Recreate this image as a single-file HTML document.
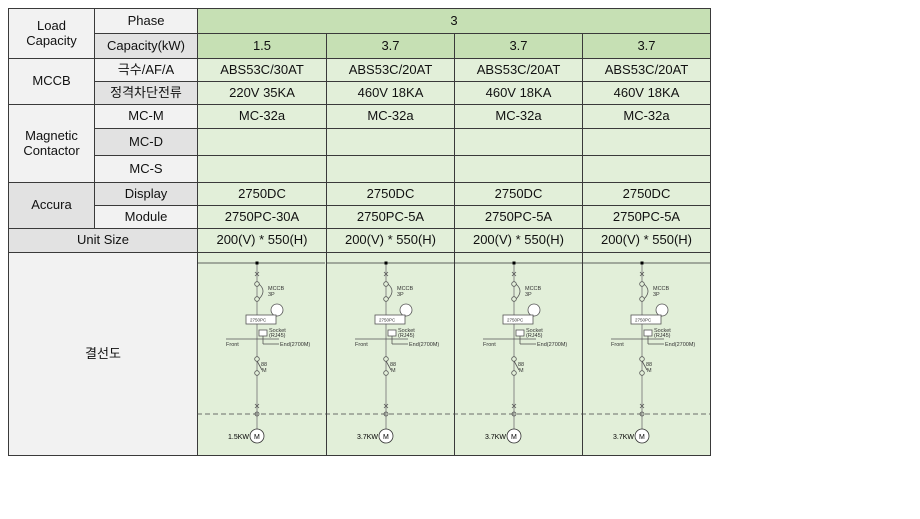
<!DOCTYPE html>
<html><head><meta charset="utf-8"><style>
body{margin:0;width:920px;height:519px;background:#fff;position:relative;overflow:hidden;font-family:"Liberation Sans","Noto Sans CJK KR",sans-serif;}
table{position:absolute;left:8px;top:8px;border-collapse:collapse;table-layout:fixed;font-size:13px;color:#111;}
td{border:1px solid #3a3a3a;text-align:center;padding:0;line-height:1.1;}
.l{background:#f2f2f2}.d{background:#e2e2e2}.g{background:#c6e0b4}.e{background:#e2efd9}
</style></head><body>
<table>
<colgroup><col style="width:86px"><col style="width:103px"><col style="width:129px"><col style="width:128px"><col style="width:128px"><col style="width:128px"></colgroup>
<tr style="height:25px"><td class="l" rowspan="2">Load<br>Capacity</td><td class="l">Phase</td><td class="g" colspan="4">3</td></tr>
<tr style="height:25px"><td class="d">Capacity(kW)</td><td class="g">1.5</td><td class="g">3.7</td><td class="g">3.7</td><td class="g">3.7</td></tr>
<tr style="height:23px"><td class="l" rowspan="2">MCCB</td><td class="l">극수/AF/A</td><td class="e">ABS53C/30AT</td><td class="e">ABS53C/20AT</td><td class="e">ABS53C/20AT</td><td class="e">ABS53C/20AT</td></tr>
<tr style="height:23px"><td class="d">정격차단전류</td><td class="e">220V 35KA</td><td class="e">460V 18KA</td><td class="e">460V 18KA</td><td class="e">460V 18KA</td></tr>
<tr style="height:24px"><td class="l" rowspan="3">Magnetic<br>Contactor</td><td class="l">MC-M</td><td class="e">MC-32a</td><td class="e">MC-32a</td><td class="e">MC-32a</td><td class="e">MC-32a</td></tr>
<tr style="height:27px"><td class="d">MC-D</td><td class="e"></td><td class="e"></td><td class="e"></td><td class="e"></td></tr>
<tr style="height:27px"><td class="l">MC-S</td><td class="e"></td><td class="e"></td><td class="e"></td><td class="e"></td></tr>
<tr style="height:23px"><td class="d" rowspan="2">Accura</td><td class="d">Display</td><td class="e">2750DC</td><td class="e">2750DC</td><td class="e">2750DC</td><td class="e">2750DC</td></tr>
<tr style="height:23px"><td class="l">Module</td><td class="e">2750PC-30A</td><td class="e">2750PC-5A</td><td class="e">2750PC-5A</td><td class="e">2750PC-5A</td></tr>
<tr style="height:24px"><td class="d" colspan="2">Unit Size</td><td class="e">200(V) * 550(H)</td><td class="e">200(V) * 550(H)</td><td class="e">200(V) * 550(H)</td><td class="e">200(V) * 550(H)</td></tr>
<tr style="height:203px"><td class="l" colspan="2">결선도</td><td class="e"></td><td class="e"></td><td class="e"></td><td class="e"></td></tr>
</table>
<svg width="920" height="519" style="position:absolute;left:0;top:0" font-family="Liberation Sans" >
<defs>
<g id="d" stroke="#555" fill="none" stroke-width="0.8">
<line x1="-60" y1="263" x2="68" y2="263" stroke="#333"/>
<line x1="0" y1="263" x2="0" y2="430" stroke="#888" stroke-width="1"/>
<rect x="-1.5" y="261.5" width="3" height="3" fill="#000" stroke="none"/>
<path d="M-2 272l4 4M2 272l-4 4"/>
<circle cx="0" cy="284" r="2.3" fill="#e2efd9"/>
<path d="M2 284q8 7 0 15"/>
<circle cx="0" cy="299" r="2.3" fill="#e2efd9"/>
<circle cx="20" cy="310" r="6" fill="#fff"/>
<line x1="14" y1="318" x2="20" y2="316"/>
<rect x="-11" y="315" width="30" height="9" fill="#fff"/>
<rect x="2" y="330" width="8" height="6" fill="#fff"/>
<line x1="-31" y1="339" x2="22" y2="339"/>
<line x1="6" y1="336" x2="6" y2="344"/><line x1="6" y1="344" x2="22" y2="344"/>
<circle cx="0" cy="359" r="2.3" fill="#e2efd9"/>
<line x1="0" y1="361" x2="5" y2="370"/>
<circle cx="0" cy="373" r="2.3" fill="#e2efd9"/>
<path d="M-2 404l4 4M2 404l-4 4"/>
<circle cx="0" cy="414" r="2"/>
<circle cx="0" cy="436" r="7" fill="#fff" stroke="#333"/>
</g>
<g id="t" font-size="5.5" fill="#333">
<text x="11" y="290">MCCB</text><text x="11" y="296">3P</text>
<text x="-7" y="321.5" font-size="4.5">2750PC</text>
<text x="12" y="332">Socket</text><text x="12" y="337">(RJ45)</text>
<text x="-31" y="346">Front</text><text x="23" y="346">End(2700M)</text>
<text x="4" y="366">88</text><text x="5" y="372">M</text>
<text x="-3" y="439" font-size="7" fill="#000">M</text>
</g>
</defs>
<line x1="197" y1="414" x2="710" y2="414" stroke="#444" stroke-dasharray="5,3" stroke-width="0.8"/>
<use href="#d" x="257"/><use href="#t" x="257"/><text x="228" y="439" font-size="7">1.5KW</text>
<use href="#d" x="386"/><use href="#t" x="386"/><text x="357" y="439" font-size="7">3.7KW</text>
<use href="#d" x="514"/><use href="#t" x="514"/><text x="485" y="439" font-size="7">3.7KW</text>
<use href="#d" x="642"/><use href="#t" x="642"/><text x="613" y="439" font-size="7">3.7KW</text>
</svg>
</body></html>
